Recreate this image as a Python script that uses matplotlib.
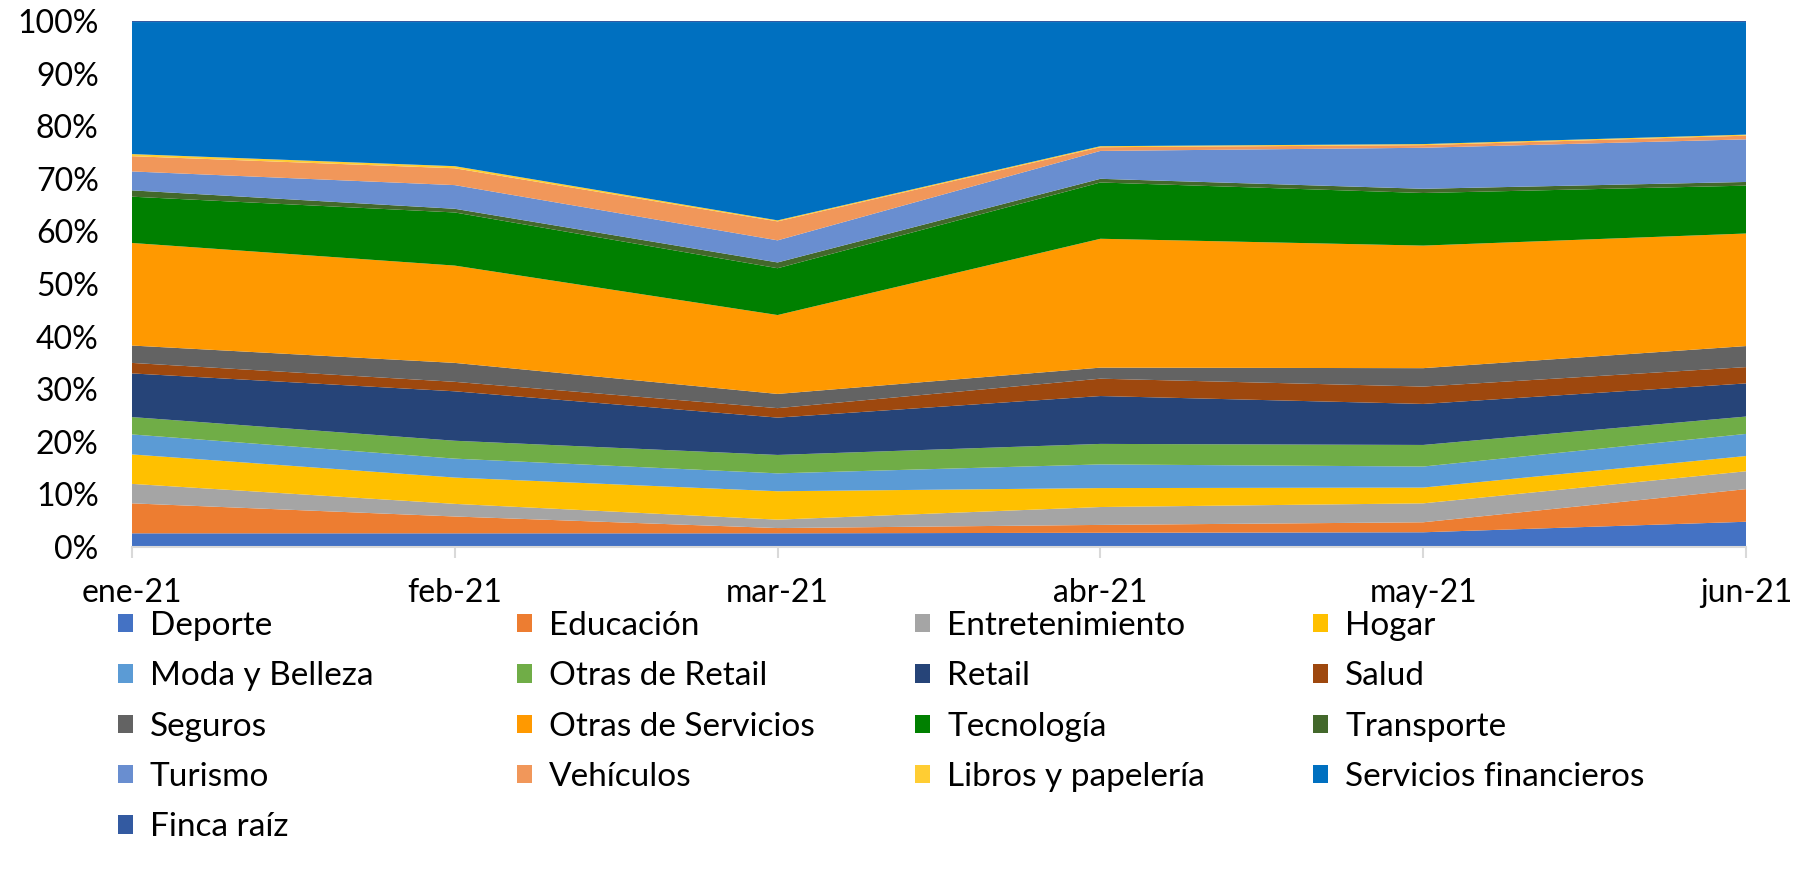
import matplotlib
matplotlib.use("Agg")
import matplotlib.pyplot as plt
from matplotlib.ticker import PercentFormatter

months = ["ene-21", "feb-21", "mar-21", "abr-21", "may-21", "jun-21"]

deporte = [2.6, 2.6, 2.6, 2.7, 2.8, 4.8]
educacion = [5.7, 3.2, 1.0, 1.5, 1.9, 6.2]
entretenimiento = [3.7, 2.4, 1.6, 3.4, 3.6, 3.4]
hogar = [5.6, 5.0, 5.4, 3.6, 3.0, 2.9]
moda = [3.8, 3.6, 3.4, 4.5, 4.0, 4.2]
otras_retail = [3.3, 3.4, 3.5, 3.9, 4.1, 3.3]
retail = [8.3, 9.4, 7.1, 9.1, 7.8, 6.3]
salud = [2.0, 1.8, 1.8, 3.3, 3.3, 3.1]
seguros = [3.3, 3.6, 2.7, 2.1, 3.5, 4.0]
otras_servicios = [19.5, 18.5, 15.0, 24.5, 23.3, 21.4]
tecnologia = [8.8, 10.1, 8.9, 10.7, 10.0, 9.1]
transporte = [1.2, 0.7, 1.1, 0.7, 0.8, 0.7]
turismo = [3.6, 4.5, 4.2, 5.3, 7.8, 8.1]
vehiculos = [2.9, 3.2, 3.6, 0.7, 0.5, 0.7]
libros = [0.4, 0.4, 0.2, 0.2, 0.2, 0.2]
serv_financieros = [25.1, 27.4, 37.7, 23.6, 23.2, 21.4]
finca_raiz = [0.2, 0.2, 0.2, 0.2, 0.2, 0.2]

series_names = ["Deporte", "Educación", "Entretenimiento", "Hogar",
                "Moda y Belleza", "Otras de Retail", "Retail", "Salud",
                "Seguros", "Otras de Servicios", "Tecnología", "Transporte",
                "Turismo", "Vehículos", "Libros y papelería",
                "Servicios financieros", "Finca raíz"]
series_values = [deporte, educacion, entretenimiento, hogar, moda, otras_retail,
                 retail, salud, seguros, otras_servicios, tecnologia, transporte,
                 turismo, vehiculos, libros, serv_financieros, finca_raiz]
colors = ["#4472C4", "#ED7D31", "#A5A5A5", "#FFC000", "#5B9BD5", "#70AD47",
          "#264478", "#9E480E", "#636363", "#FF9900", "#008000", "#43682B",
          "#698ED0", "#F1975A", "#FFCD33", "#0070C0", "#335AA1"]

plt.rcParams['font.family'] = ['Lato', 'DejaVu Sans']

W, H = 1801, 883
fig = plt.figure(figsize=(W / 100, H / 100), dpi=100)
left, right, top, bottom = 132, 1746, 21, 547
ax = fig.add_axes([left / W, 1 - bottom / H, (right - left) / W, (bottom - top) / H])

x = list(range(len(months)))
polys = ax.stackplot(x, *series_values, colors=colors, labels=series_names, linewidth=0)

ax.set_xlim(0, len(months) - 1)
ax.set_ylim(0, 100)
ax.set_yticks(range(0, 101, 10))
ax.yaxis.set_major_formatter(PercentFormatter(decimals=0))
ax.set_xticks(x)
ax.set_xticklabels(months)

for s in ["top", "right", "left"]:
    ax.spines[s].set_visible(False)
ax.spines["bottom"].set_color("#D9D9D9")
ax.spines["bottom"].set_linewidth(1.5)
ax.spines["bottom"].set_zorder(5)

ax.tick_params(axis="y", length=0, pad=24, labelsize=23, labelcolor="black")
ax.tick_params(axis="x", length=8, width=1.5, color="#D9D9D9", pad=14,
               labelsize=23, labelcolor="black")

# legend: 4 equally spaced columns
col_x = [118, 517, 915, 1313]
legend_top = 611
for c in range(4):
    idx = list(range(c, len(series_names), 4))
    handles = [polys[i] for i in idx]
    labels = [series_names[i] for i in idx]
    fig.legend(handles, labels, loc="upper left",
               bbox_to_anchor=(col_x[c] / W, 1 - legend_top / H),
               frameon=False, fontsize=24, handlelength=0.46,
               handleheight=0.46, handletextpad=0.5,
               labelspacing=0.61, borderpad=0, borderaxespad=0)

fig.savefig("out.png", dpi=100)
